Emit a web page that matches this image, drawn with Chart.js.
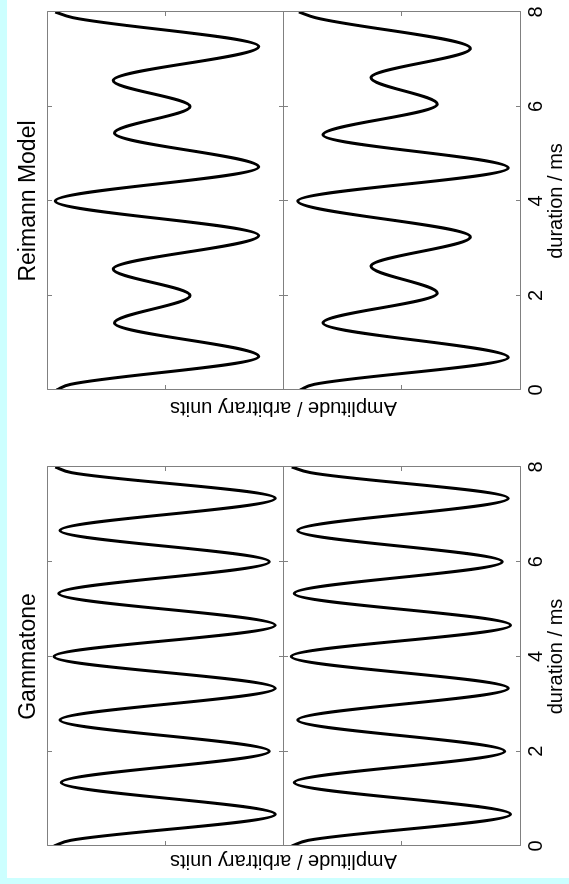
<!DOCTYPE html>
<html>
<head>
<meta charset="utf-8">
<script src="https://cdn.jsdelivr.net/npm/chart.js@4.4.1/dist/chart.umd.min.js"></script>
<style>
html, body { margin: 0; padding: 0; width: 569px; height: 884px; overflow: hidden; background: #ccffff; }
#fig { position: absolute; left: 0; top: 0; width: 884px; height: 569px; background: #ccffff;
       transform-origin: 0 0; transform: translateY(884px) rotate(-90deg); }
#paper { position: absolute; left: 6px; top: 7px; width: 878px; height: 562px; background: #ffffff; }
canvas { position: absolute; left: 0; top: 0; }
</style>
</head>
<body>
<div id="fig">
  <div id="paper"></div>
  <canvas id="cGamma" width="884" height="569"></canvas>
  <canvas id="cReimann" width="884" height="569"></canvas>
</div>
<script>
// ---- data (duration in ms, amplitude in arbitrary units) ----
const panelTitles = ['Gammatone', 'Reimann Model'];
const xAxisTitle = 'duration / ms';
const yAxisTitle = 'Amplitude / arbitrary units';
const durationTicks = [0, 2, 4, 6, 8];

const gammaTime  = [0, 0.12, 0.67, 1.34, 2.0, 2.66, 3.33, 4.0, 4.66, 5.33, 6.0, 6.66, 7.34, 7.88, 8.0];
const gammaUpper = [0.94, 0.80, -0.93, 0.88, -0.88, 0.89, -0.93, 0.94, -0.93, 0.90, -0.88, 0.89, -0.93, 0.79, 0.93];
const gammaLower = [0.93, 0.79, -0.92, 0.91, -0.87, 0.88, -0.90, 0.935, -0.92, 0.91, -0.85, 0.88, -0.90, 0.77, 0.93];

const reimannTimeUpper = [0, 0.12, 0.71, 1.42, 2.0, 2.56, 3.27, 4.0, 4.72, 5.44, 6.0, 6.55, 7.27, 7.88, 8.0];
const reimannUpper     = [0.92, 0.80, -0.79, 0.43, -0.21, 0.44, -0.79, 0.93, -0.79, 0.43, -0.21, 0.44, -0.79, 0.78, 0.93];
const reimannTimeLower = [0, 0.12, 0.69, 1.42, 2.05, 2.62, 3.24, 4.0, 4.70, 5.40, 6.05, 6.61, 7.23, 7.88, 8.0];
const reimannLower     = [0.86, 0.74, -0.90, 0.665, -0.30, 0.26, -0.58, 0.88, -0.90, 0.665, -0.30, 0.26, -0.58, 0.73, 0.87];

// ---- drawing ----
Chart.defaults.font.family = "'Liberation Sans', Arial, sans-serif";
Chart.defaults.color = '#000';

const TICK_LEN = 4.5;
const crisp = v => Math.floor(v) + 0.5;

const framePlugin = {
  id: 'matlabFrame',
  afterDatasetsDraw(chart) {
    const ctx = chart.ctx;
    const xs = chart.scales.x;
    const L = crisp(xs.left), R = crisp(xs.right);
    ctx.save();
    ctx.strokeStyle = '#808080';
    ctx.lineWidth = 1;
    ['yTop', 'yBottom'].forEach(id => {
      const s = chart.scales[id];
      const T = crisp(s.top), B = crisp(s.bottom);
      ctx.beginPath();
      ctx.rect(L, T, R - L, B - T);
      xs.ticks.forEach(tk => {
        const px = crisp(xs.getPixelForValue(tk.value));
        ctx.moveTo(px, T); ctx.lineTo(px, T + TICK_LEN);
        ctx.moveTo(px, B); ctx.lineTo(px, B - TICK_LEN);
      });
      s.ticks.forEach(tk => {
        const py = crisp(s.getPixelForValue(tk.value));
        ctx.moveTo(L, py); ctx.lineTo(L + TICK_LEN, py);
        ctx.moveTo(R, py); ctx.lineTo(R - TICK_LEN, py);
      });
      ctx.stroke();
    });
    ctx.restore();
  }
};

function toPoints(times, values) {
  return times.map((t, i) => ({ x: t, y: values[i] }));
}

function lineDataset(points, axis) {
  return {
    data: points, yAxisID: axis,
    borderColor: '#000000', borderWidth: 3,
    pointRadius: 0, fill: false,
    cubicInterpolationMode: 'monotone'
  };
}

function hiddenY(extra) {
  return Object.assign({
    type: 'linear', position: 'left', min: -1, max: 1,
    ticks: { display: false, stepSize: 1 },
    grid: { display: false, drawTicks: false },
    border: { display: false },
    afterFit: s => { s.width = 0; }
  }, extra);
}

function makePanel(canvasId, title, tU, vU, tL, vL, x0, x1, yTitleShift) {
  return new Chart(document.getElementById(canvasId), {
    type: 'line',
    data: {
      datasets: [
        lineDataset(toPoints(tU, vU), 'yTop'),
        lineDataset(toPoints(tL, vL), 'yBottom')
      ]
    },
    options: {
      responsive: false, animation: false, devicePixelRatio: 1,
      layout: { padding: { left: x0, right: 884 - x1, top: 8, bottom: 0 }, autoPadding: false },
      plugins: {
        legend: { display: false },
        tooltip: { enabled: false },
        title: {
          display: true, text: title, color: '#000',
          font: { size: 23, weight: 'normal' },
          padding: { top: 6.9, bottom: 4.5 }
        }
      },
      scales: {
        x: {
          type: 'linear', position: 'bottom', min: 0, max: 8,
          afterBuildTicks: s => { s.ticks = durationTicks.map(v => ({ value: v })); },
          ticks: { color: '#000', font: { size: 20 }, padding: 4.5 },
          grid: { display: false, drawTicks: false },
          border: { display: false },
          title: { display: true, text: xAxisTitle, color: '#000', font: { size: 20 }, padding: { top: 0, bottom: 0.5 } },
          afterFit: s => { s.height = 49; }
        },
        yl: hiddenY({
          weight: 3,
          title: { display: true, text: yAxisTitle, color: '#000', font: { size: 20 }, padding: { top: yTitleShift, bottom: 0 } }
        }),
        yTop: hiddenY({ stack: 'amp', stackWeight: 1, weight: 2 }),
        yBottom: hiddenY({ stack: 'amp', stackWeight: 1, weight: 1 })
      }
    },
    plugins: [framePlugin]
  });
}

makePanel('cGamma', panelTitles[0], gammaTime, gammaUpper, gammaTime, gammaLower, 38, 417, -26.7);
makePanel('cReimann', panelTitles[1], reimannTimeUpper, reimannUpper, reimannTimeLower, reimannLower, 494, 872, -29.5);
</script>
</body>
</html>
